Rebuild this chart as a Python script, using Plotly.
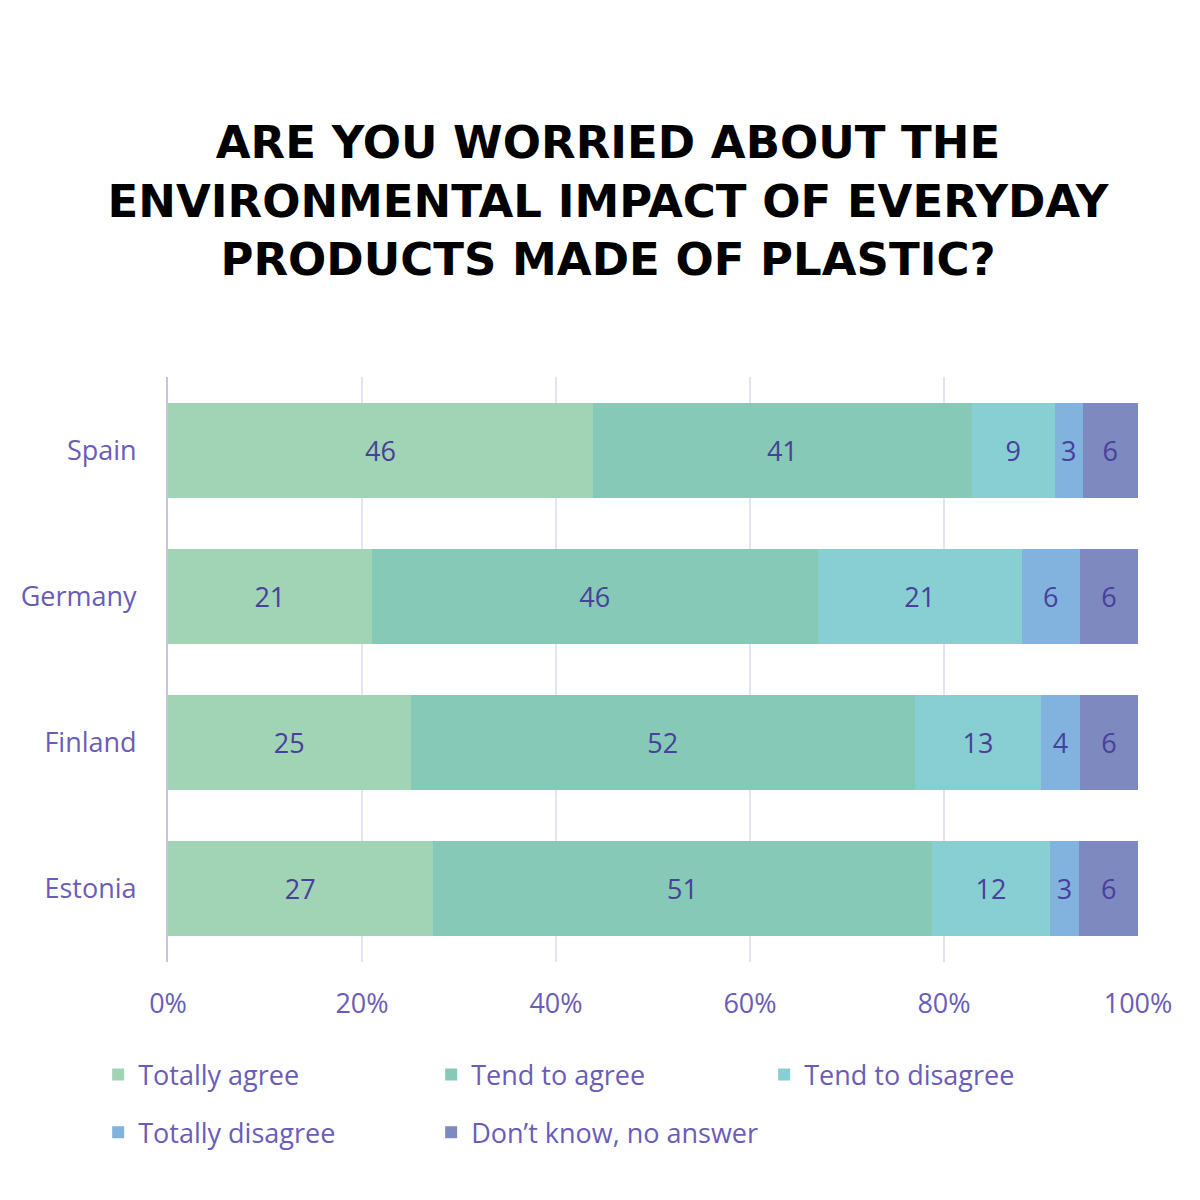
import plotly.graph_objects as go

countries = ['Spain', 'Germany', 'Finland', 'Estonia']
answers = ['Totally agree', 'Tend to agree', 'Tend to disagree',
           'Totally disagree', 'Don’t know, no answer']

totally_agree = [46, 21, 25, 27]
tend_agree = [41, 46, 52, 51]
tend_disagree = [9, 21, 13, 12]
totally_disagree = [3, 6, 4, 3]
dont_know = [6, 6, 6, 6]

series = [totally_agree, tend_agree, tend_disagree, totally_disagree, dont_know]
colors = ['#A1D3B5', '#85C9B6', '#88CFD3', '#82B3DF', '#7E89BF']

ticks = [0, 20, 40, 60, 80, 100]
tick_labels = ['0%', '20%', '40%', '60%', '80%', '100%']

axis_col = '#6A5CB8'
label_col = '#48409A'
font = 'Open Sans'

fig = go.Figure()
for i, (name, vals) in enumerate(zip(answers, series)):
    fig.add_trace(go.Bar(
        y=countries, x=vals, name=name, orientation='h',
        marker=dict(color=colors[i], line=dict(width=0)),
        text=vals, texttemplate='%{text}', textposition='inside',
        insidetextanchor='middle',
        textfont=dict(family=font, size=27, color=label_col),
        legend='legend' if i < 3 else 'legend2',
    ))

# legend rows split in two so each row sits where the reference has it
legend_style = dict(
    orientation='h', xref='paper', yref='paper', xanchor='left', yanchor='middle',
    font=dict(family=font, size=27, color=axis_col),
    entrywidth=288, entrywidthmode='pixels', itemwidth=30,
    bgcolor='rgba(0,0,0,0)', traceorder='normal',
)

fig.update_layout(
    width=1200, height=1200,
    paper_bgcolor='white', plot_bgcolor='white',
    barmode='stack', barnorm='percent', bargap=0.35,
    margin=dict(l=160, r=70, t=369, b=246, autoexpand=False),
    showlegend=True,
    legend=dict(x=-0.072, y=-0.193, **legend_style),
    legend2=dict(x=-0.072, y=-0.292, **legend_style),
    title=dict(
        text='ARE YOU WORRIED ABOUT THE<br>ENVIRONMENTAL IMPACT OF EVERYDAY<br>PRODUCTS MADE OF PLASTIC?',
        x=0.5, xref='container', xanchor='center',
        y=1 - 150 / 1200, yref='container', yanchor='middle',
        font=dict(family='DejaVu Sans', size=45, color='black', weight=900),
    ),
    xaxis=dict(
        range=[0, 100], tickvals=ticks, ticktext=tick_labels,
        showgrid=True, gridcolor='#E5E2F2', gridwidth=2, zeroline=False,
        tickfont=dict(family=font, size=27, color=axis_col),
        ticks='', showline=False, ticklabelstandoff=23,
    ),
    yaxis=dict(
        autorange='reversed', showgrid=False, zeroline=False,
        showline=True, linecolor='#C9C2E6', linewidth=2,
        tickfont=dict(family=font, size=27, color=axis_col),
        ticks='', ticklabelstandoff=24,
    ),
)

fig.write_html('out.html')
